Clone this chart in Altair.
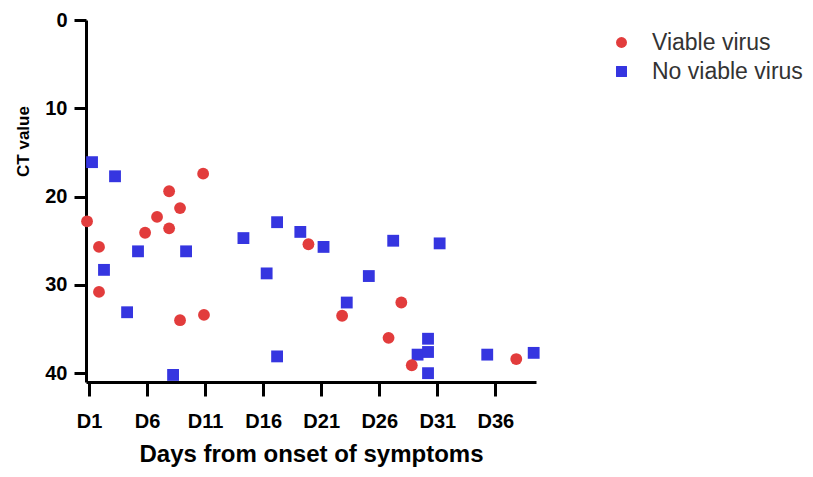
import altair as alt
import pandas as pd

# Viable virus (red circles)
viable_day = [0.83, 1.86, 1.86, 5.83, 6.86, 7.9, 7.9, 8.84, 8.84, 10.83, 10.9,
              19.9, 22.8, 26.8, 27.9, 28.8, 37.8]
viable_ct = [22.8, 25.7, 30.8, 24.1, 22.3, 19.4, 23.6, 21.3, 34.0, 17.4, 33.4,
             25.4, 33.5, 36.0, 32.0, 39.1, 38.4]

# No viable virus (blue squares)
noviable_day = [1.26, 3.24, 2.29, 4.28, 5.22, 8.24, 9.36, 14.3, 16.3, 17.2, 17.2,
                19.2, 21.2, 23.2, 25.1, 27.2, 29.3, 30.2, 30.2, 30.2, 31.2, 35.3, 39.3]
noviable_ct = [16.1, 17.7, 28.3, 33.1, 26.2, 40.2, 26.2, 24.7, 28.7, 22.9, 38.1,
               24.0, 25.7, 32.0, 29.0, 25.0, 37.9, 36.1, 37.6, 40.0, 25.3, 37.9, 37.7]

groups = ["Viable virus", "No viable virus"]
x_ticks = [1, 6, 11, 16, 21, 26, 31, 36]
y_ticks = [0, 10, 20, 30, 40]

df = pd.concat([
    pd.DataFrame({"day": noviable_day, "ct": noviable_ct, "group": groups[1], "order": 0}),
    pd.DataFrame({"day": viable_day, "ct": viable_ct, "group": groups[0], "order": 1}),
], ignore_index=True)

FONT = "Liberation Sans"

legend = alt.Legend(title=None, orient="none", legendX=524, legendY=11,
                    labelFontSize=23, labelFont=FONT, labelColor="#333333",
                    labelOffset=19, symbolSize=120, rowPadding=5, padding=0)

chart = alt.Chart(df).mark_point(filled=True, opacity=1, size=140).encode(
    x=alt.X("day:Q",
            scale=alt.Scale(domain=[0.74, 39.5], nice=False, zero=False),
            axis=alt.Axis(values=x_ticks, labelExpr="'D' + datum.value",
                          title="Days from onset of symptoms",
                          grid=False, domainWidth=3, domainColor="black",
                          tickWidth=3, tickColor="black", tickSize=14,
                          labelFontSize=20, labelColor="black", labelFont=FONT,
                          labelFontWeight="bold",
                          labelPadding=15, labelFlush=False,
                          titleFontSize=24, titleFont=FONT, titleFontWeight="bold",
                          titleColor="black", titleY=60, titleBaseline="top")),
    y=alt.Y("ct:Q",
            scale=alt.Scale(domain=[0, 41], reverse=True, nice=False),
            axis=alt.Axis(values=y_ticks, title="CT value",
                          grid=False, domainWidth=3, domainColor="black",
                          tickWidth=3, tickColor="black", tickSize=12,
                          labelFontSize=20, labelColor="black", labelFont=FONT,
                          labelFontWeight="bold",
                          labelPadding=7, labelFlush=False,
                          titleFontSize=17, titleFont=FONT, titleFontWeight="bold",
                          titleColor="black", titleX=-54, titleY=121,
                          titleAngle=270, titleBaseline="bottom", titleAlign="center")),
    color=alt.Color("group:N",
                    scale=alt.Scale(domain=groups, range=["#e23c3c", "#3535e0"]),
                    legend=legend),
    shape=alt.Shape("group:N",
                    scale=alt.Scale(domain=groups, range=["circle", "square"]),
                    legend=legend),
    order=alt.Order("order:Q"),
).properties(
    width=450, height=362,
    autosize=alt.AutoSizeParams(type="none"),
    padding={"left": 78, "top": 12, "right": 269, "bottom": 87},
).configure_view(stroke=None)

chart.save("out.html", embed_options={"renderer": "svg", "actions": False})
